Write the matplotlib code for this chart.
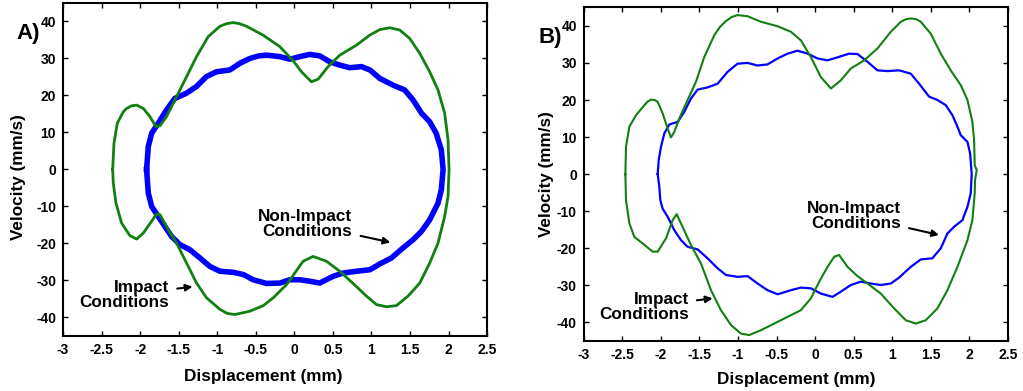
#!/usr/bin/env python3

from matplotlib import rcParams
from matplotlib.pyplot import close, figure, savefig

rcParams["font.family"] = ["Liberation Sans", "DejaVu Sans"]
rcParams["font.weight"] = "bold"
rcParams["axes.unicode_minus"] = False

BLUE = "#0000ff"
GREEN = "#108010"

X_TICKS = [-3, -2.5, -2, -1.5, -1, -0.5, 0, 0.5, 1, 1.5, 2, 2.5]
Y_TICKS = [-40, -30, -20, -10, 0, 10, 20, 30, 40]

# A) phase portrait, non-impact loop (mm, mm/s)
A_NON_IMPACT_X = [
    -1.916, -1.894, -1.85, -1.765, -1.657, -1.55, -1.40, -1.27, -1.14, -1.01,
    -0.836, -0.706, -0.577, -0.46, -0.36, -0.188, -0.058, 0.071, 0.2, 0.33,
    0.46, 0.59, 0.72, 0.87, 0.98, 1.11, 1.28, 1.43, 1.54, 1.65, 1.756, 1.84,
    1.907, 1.93, 1.907, 1.864, 1.756, 1.65, 1.54, 1.41, 1.26, 1.13, 0.98,
    0.806, 0.63, 0.50, 0.33, 0.2, 0.071, -0.058, -0.188, -0.36, -0.534,
    -0.66, -0.79, -0.965, -1.095, -1.225, -1.354, -1.484, -1.592, -1.678,
    -1.765, -1.85, -1.894,
]
A_NON_IMPACT_Y = [
    0, 6.2, 9.8, 12.5, 16.1, 19.2, 20.6, 22.4, 25.1, 26.4, 26.9, 28.7, 30.0,
    30.7, 30.9, 30.5, 29.8, 30.5, 31.1, 30.7, 29.1, 28.2, 27.5, 27.8, 26.9,
    24.6, 22.8, 21.5, 18.8, 15.2, 12.9, 9.8, 5.3, 0, -5.5, -9.1, -13.6, -16.7,
    -19.0, -21.2, -23.9, -25.3, -27.1, -27.5, -28.0, -28.9, -30.7, -30.2,
    -29.8, -29.8, -30.7, -30.8, -29.8, -28.4, -27.8, -27.5, -26.2, -23.9,
    -21.7, -20.3, -18.1, -15.4, -12.7, -10.0, -6.4,
]

# A) impact loop
A_IMPACT_X = [
    -2.356, -2.339, -2.296, -2.218, -2.175, -2.11, -2.045, -1.959, -1.873,
    -1.795, -1.743, -1.657, -1.527, -1.397, -1.268, -1.117, -1.03, -0.965,
    -0.88, -0.793, -0.71, -0.62, -0.404, -0.188, -0.015, 0.093, 0.222, 0.309,
    0.438, 0.59, 0.806, 0.978, 1.108, 1.238, 1.367, 1.497, 1.627, 1.756,
    1.864, 1.95, 1.994, 2.007, 1.994, 1.95, 1.864, 1.756, 1.627, 1.476, 1.324,
    1.195, 1.065, 0.935, 0.762, 0.59, 0.417, 0.244, 0.114, 0.006, -0.1,
    -0.274, -0.404, -0.577, -0.771, -0.87, -0.965, -1.138, -1.268, -1.397,
    -1.527, -1.635, -1.743, -1.786, -1.851, -1.959, -2.045, -2.132, -2.24,
    -2.313, -2.348,
]
A_IMPACT_Y = [
    0, 7.1, 12.5, 15.6, 16.5, 17.2, 17.4, 16.5, 14.3, 11.6, 11.8, 14.3, 19.7,
    25.1, 30.5, 35.9, 37.5, 38.7, 39.4, 39.7, 39.4, 38.7, 36.3, 33.2, 29.4,
    26.4, 23.7, 24.4, 27.8, 30.9, 33.6, 36.3, 37.8, 38.3, 37.7, 35.4, 31.4,
    26.4, 21.5, 15.2, 8.0, 0, -7.3, -12.7, -19.9, -25.3, -30.7, -34.2, -36.8,
    -37.1, -36.5, -34.2, -30.8, -27.5, -24.8, -23.5, -24.8, -28.0, -31.1,
    -34.7, -36.8, -38.3, -39.2, -38.9, -37.8, -34.7, -30.7, -25.3, -19.9,
    -16.3, -12.2, -12.0, -14.0, -17.2, -18.8, -17.9, -14.5, -9.1, -3.7,
]

# B) non-impact loop
B_NON_IMPACT_X = [
    -2.041, -2.028, -1.998, -1.955, -1.89, -1.782, -1.696, -1.61, -1.523,
    -1.394, -1.264, -1.135, -1.005, -0.876, -0.746, -0.617, -0.487, -0.358,
    -0.228, -0.098, 0.031, 0.161, 0.29, 0.441, 0.549, 0.679, 0.808, 0.938,
    1.089, 1.24, 1.348, 1.478, 1.586, 1.694, 1.78, 1.845, 1.888, 1.975, 2.009,
    2.03, 2.017, 1.975, 1.91, 1.801, 1.715, 1.629, 1.52, 1.37, 1.24, 1.089,
    0.981, 0.851, 0.722, 0.592, 0.463, 0.333, 0.225, 0.074, -0.055, -0.185,
    -0.314, -0.487, -0.617, -0.746, -0.876, -1.005, -1.156, -1.264, -1.394,
    -1.523, -1.653, -1.739, -1.826, -1.912, -1.977, -2.007, -2.02,
]
B_NON_IMPACT_Y = [
    0, 3.8, 7.4, 11.0, 13.4, 14.1, 16.8, 20.4, 22.8, 23.4, 24.4, 27.6, 29.8,
    30.0, 29.3, 29.6, 31.2, 32.5, 33.3, 32.5, 31.2, 30.7, 31.5, 32.5, 32.4,
    30.3, 28.0, 27.8, 28.0, 27.1, 24.4, 20.9, 20.0, 18.6, 15.9, 12.8, 10.5,
    8.7, 5.6, 0, -5.2, -8.8, -12.4, -14.2, -16.0, -20.0, -22.7, -23.0, -25.0,
    -27.9, -29.5, -29.9, -29.5, -29.0, -29.9, -31.7, -33.1, -32.2, -30.8,
    -30.6, -31.3, -32.4, -31.3, -29.5, -27.5, -27.7, -27.2, -25.4, -22.7,
    -20.3, -19.6, -17.8, -15.1, -11.5, -9.3, -7.0, -3.4,
]

# B) impact loop
B_IMPACT_X = [
    -2.46, -2.452, -2.408, -2.322, -2.214, -2.17, -2.128, -2.08, -2.041,
    -1.977, -1.912, -1.869, -1.826, -1.761, -1.653, -1.545, -1.437, -1.307,
    -1.23, -1.156, -1.08, -1.005, -0.876, -0.703, -0.487, -0.314, -0.185,
    -0.055, 0.074, 0.204, 0.333, 0.463, 0.636, 0.808, 0.981, 1.111, 1.18,
    1.24, 1.31, 1.37, 1.499, 1.629, 1.758, 1.888, 1.975, 2.039, 2.061, 2.069,
    2.095, 2.073, 2.069, 2.039, 1.975, 1.845, 1.715, 1.586, 1.434, 1.305,
    1.175, 1.024, 0.851, 0.679, 0.549, 0.42, 0.311, 0.247, 0.161, 0.053,
    -0.055, -0.185, -0.358, -0.53, -0.703, -0.854, -0.962, -1.091, -1.221,
    -1.35, -1.48, -1.61, -1.739, -1.795, -1.847, -1.933, -2.041, -2.106,
    -2.236, -2.344, -2.408, -2.452,
]
B_IMPACT_Y = [
    0, 7.4, 12.8, 15.9, 18.6, 19.6, 20.1, 20.0, 19.5, 16.4, 12.3, 9.9, 11.4,
    15.0, 20.0, 24.9, 31.6, 37.5, 39.8, 41.3, 42.4, 42.9, 42.6, 41.1, 39.9,
    38.4, 36.1, 31.6, 26.2, 23.1, 25.3, 28.5, 30.7, 33.9, 38.4, 41.1, 41.8,
    42.0, 41.8, 41.1, 37.9, 32.5, 28.0, 24.0, 20.0, 14.1, 9.2, 2.4, 1.1, -1.6,
    -5.2, -12.4, -17.8, -25.0, -31.3, -36.2, -39.4, -40.3, -39.4, -36.2,
    -32.2, -29.5, -27.5, -25.0, -21.8, -22.3, -25.0, -29.0, -33.5, -36.7,
    -38.5, -40.3, -42.1, -43.4, -43.0, -40.7, -36.7, -31.3, -24.1, -19.1,
    -13.3, -10.8, -12.4, -17.3, -20.9, -20.9, -18.7, -16.9, -13.3, -7.0,
]


def closed(vs):
    return list(vs) + [vs[0]]


def style_axis(ax):
    ax.set_xlim(-3, 2.5)
    ax.set_ylim(-45, 45)
    ax.set_xticks(X_TICKS)
    ax.set_xticklabels(["{:g}".format(t) for t in X_TICKS])
    ax.set_yticks(Y_TICKS)
    ax.set_yticklabels(["{:g}".format(t) for t in Y_TICKS])
    ax.tick_params(
        direction="in",
        top=True,
        right=True,
        length=3.5,
        width=1,
        labelsize=10,
        pad=5,
    )
    for label in ax.get_xticklabels() + ax.get_yticklabels():
        label.set_fontweight("bold")
    for spine in ax.spines.values():
        spine.set_linewidth(1.5)
    ax.set_xlabel("Displacement (mm)", fontsize=12.3, fontweight="bold")
    ax.set_ylabel("Velocity (mm/s)", fontsize=12.3, fontweight="bold")


def note(ax, text, xy, xytext):
    ax.annotate(
        text,
        xy=xy,
        xytext=xytext,
        ha="right",
        va="center",
        multialignment="right",
        fontsize=12.3,
        fontweight="bold",
        linespacing=1.0,
        arrowprops={"arrowstyle": "-|>", "color": "k", "lw": 1.5,
                    "mutation_scale": 10, "shrinkA": 4, "shrinkB": 0},
    )


def plot_panel(ax, non_x, non_y, imp_x, imp_y, non_lw, imp_lw):
    ax.plot(closed(non_x), closed(non_y), color=BLUE, lw=non_lw,
            solid_joinstyle="round", zorder=2)
    ax.plot(closed(imp_x), closed(imp_y), color=GREEN, lw=imp_lw,
            solid_joinstyle="round", zorder=3)
    style_axis(ax)


def main():
    fig = figure(figsize=(10.23, 3.91), dpi=100)

    ax_a = fig.add_axes([0.0616, 0.1407, 0.4145, 0.8517])
    plot_panel(ax_a, A_NON_IMPACT_X, A_NON_IMPACT_Y,
               A_IMPACT_X, A_IMPACT_Y, 4.0, 2.0)
    note(ax_a, "Non-Impact\nConditions", (1.246, -19.7), (0.754, -14.7))
    note(ax_a, "Impact\nConditions", (-1.32, -31.7), (-1.626, -33.9))
    ax_a.xaxis.set_label_coords(0.473, -0.098)
    ax_a.yaxis.set_label_coords(-0.087, 0.476)
    fig.text(0.0279, 0.915, "A)", fontsize=16, fontweight="bold",
             ha="center", va="center")

    ax_b = fig.add_axes([0.5706, 0.1279, 0.4147, 0.8534])
    plot_panel(ax_b, B_NON_IMPACT_X, B_NON_IMPACT_Y,
               B_IMPACT_X, B_IMPACT_Y, 1.6, 1.5)
    note(ax_b, "Non-Impact\nConditions", (1.607, -16.4), (1.11, -11.2))
    note(ax_b, "Impact\nConditions", (-1.329, -33.5), (-1.64, -35.8))
    ax_b.xaxis.set_label_coords(0.5, -0.092)
    ax_b.yaxis.set_label_coords(-0.07, 0.5)
    fig.text(0.538, 0.905, "B)", fontsize=16, fontweight="bold",
             ha="center", va="center")

    savefig("out.png", dpi=100)
    close()


if __name__ == "__main__":
    main()
